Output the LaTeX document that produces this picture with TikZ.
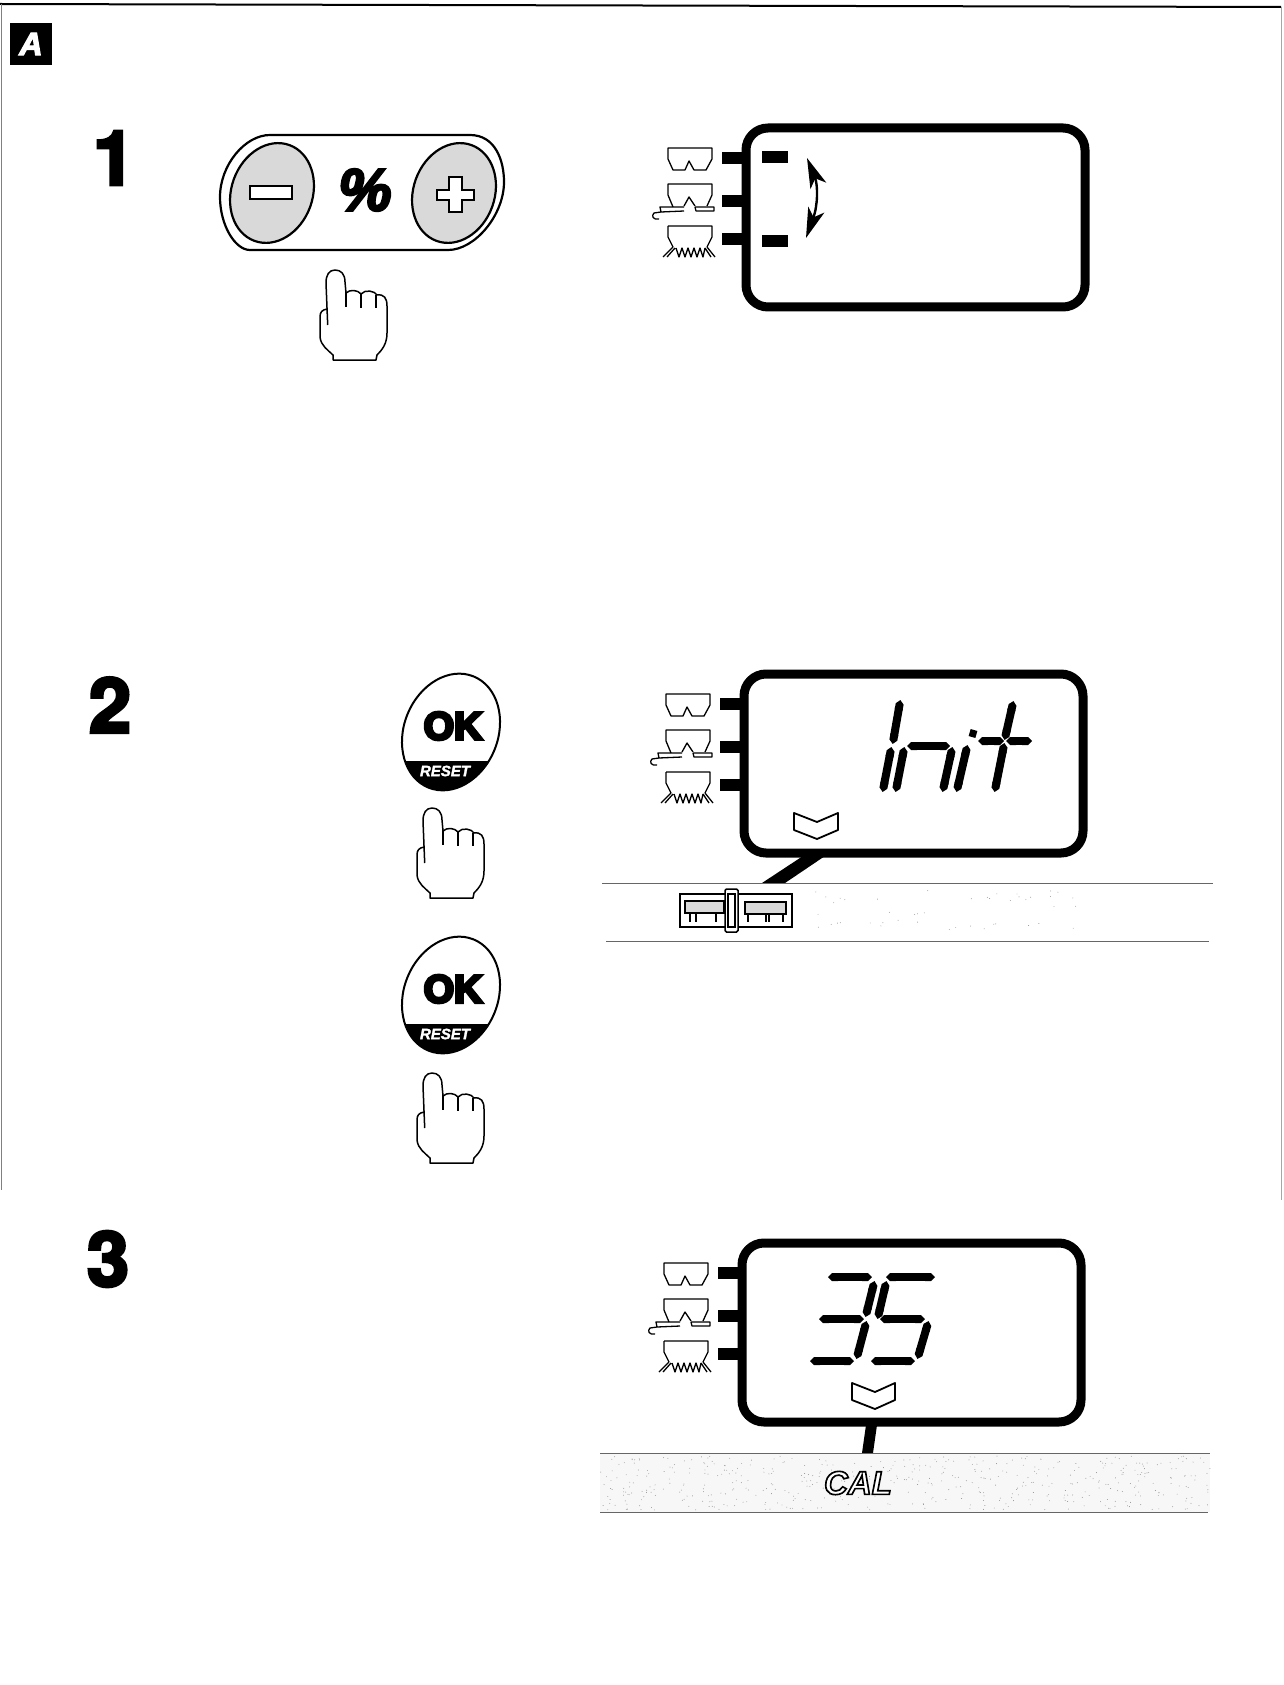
\documentclass[tikz,border=0pt]{standalone}
\usepackage{fontspec}
\setmainfont{Liberation Sans}
\newfontfamily\stepfont[UprightFont=* Bold,FakeBold=4]{TeX Gyre Heros}
\newfontfamily\okfont[UprightFont=* Bold,FakeBold=8]{Liberation Sans}
\newfontfamily\slantfont[UprightFont=* Bold Italic,FakeBold=2]{Liberation Sans}
\newfontfamily\percentfont[UprightFont=* Bold Italic,FakeBold=4]{Liberation Sans}
\newfontfamily\calfont[UprightFont=* Bold Italic,FakeBold=5]{Liberation Sans}
\usetikzlibrary{arrows.meta}
\tikzset{
stepnum/.style={font=\stepfont\fontsize{76}{76}\selectfont,inner sep=0pt},
frameline/.style={line width=1pt,black!50},
stip/.style={fill=black!15},
tick/.style={line width=12pt},
seg/.style={line width=8pt,shorten <=-2pt,shorten >=-2pt,{Triangle Cap[]}-{Triangle Cap[]}},
strip/.style={draw=black!60,line width=.7pt},
icon/.style={line width=1.3pt,line join=round},
hand/.pic={
	\draw[line width=1.5pt,line join=round,fill=white] (27,49) .. controls (22,50) and (20,52) .. (20,57)
	-- (20,77) .. controls (21,86) and (28,90) .. (33,95) -- (33,100) -- (76,100) -- (77,95)
	.. controls (82,90) and (87,84) .. (87,73) -- (87,46) .. controls (87,38) and (84,34) .. (77,35)
	.. controls (75,31) and (65,29) .. (61,34) .. controls (58,30) and (50,29) .. (46,33)
	-- (45,22) .. controls (45,14) and (41,10) .. (35,10) .. controls (29,10) and (26,15) .. (26,23) -- (27.7,65);
	\draw[line width=1.5pt] (46,33) -- (46,47) (61,34) -- (61,48) (76,35) -- (76,48);
},
okbutton/.pic={
	\draw[line width=2pt,rotate=-22] (0,0) ellipse [x radius=47,y radius=60];
	\begin{scope}
	\clip[rotate=-22] (0,0) ellipse [x radius=47,y radius=60];
	\fill (-60,29) rectangle (60,70);
	\end{scope}
	\node[font=\okfont\fontsize{39}{39}\selectfont,inner sep=0pt] (-okname) at (2,-6) {OK};
	\node[text=white,font=\slantfont\fontsize{15}{15}\selectfont,inner sep=0pt] (-resetname) at (-6,39) {RESET};
},
lcd/.pic={
	\draw[line width=9pt,rounded corners=22pt,fill=white] (0,0) rectangle (339,179);
	\draw[tick] (-24,30) -- (0,30) (-24,73) -- (0,73) (-24,111) -- (0,111);
	% hoppers
	\draw[icon] (-78,20) -- (-34,20) -- (-34,31) -- (-40,42) -- (-52,42) -- (-57,33) -- (-61,42) -- (-73,42) -- (-78,31) -- cycle;
	\draw[icon] (-73,79) -- (-78,67) -- (-78,56) -- (-34,56) -- (-34,67) -- (-39,78) (-62,78) -- (-57,69) -- (-51,78);
	\draw[icon] (-51,79) -- (-32,79) -- (-32,83) -- (-50,83) -- (-51,79) (-62,79) -- (-86,79) -- (-85,84) -- (-62,83)
	(-85,84) -- (-92,85) .. controls (-95,88) and (-93,92) .. (-87,91);
	\draw[icon] (-78,98) -- (-34,98) -- (-34,109) -- (-39,119) (-78,98) -- (-78,109) -- (-73,119);
	\draw[icon] (-73,119) -- (-83,129) (-71,120) -- (-79,129)
	(-70,120) -- (-67,129) -- (-64,120) -- (-61,129) -- (-58,120) -- (-55,129) -- (-52,120) -- (-49,129) -- (-46,120) -- (-43,129) -- (-41,120)
	(-39,119) -- (-31,129) (-41,120) -- (-35,129);
},
updown/.style={line width=2.4pt,{Stealth[length=30pt,width=17pt,inset=8pt]}-{Stealth[length=30pt,width=17pt,inset=8pt]}},
chevron/.style={line width=1.8pt,line join=round}
}
\begin{document}
\begin{tikzpicture}[x=1pt,y=-1pt]
\useasboundingbox (0,0) rectangle (1283,1685);
% page frame
\draw[line width=2pt] (0,4) -- (1281,7);
\draw[frameline] (1.5,4) -- (1.5,1190);
\draw[frameline,black!35] (1281,7) -- (1281,1200);
% badge
\node[fill=black,minimum width=42pt,minimum height=42pt,inner sep=0pt,text=white,font=\percentfont\fontsize{32}{32}\selectfont] (badge) at (31,44) {A};
\node[stepnum] (stepone) at (114,158) {1};
\node[stepnum] (steptwo) at (110,705) {2};
\node[stepnum] (stepthree) at (108,1259) {3};

% step 1
\draw[line width=2.2pt] (270,135) -- (470,135) .. controls (495,135) and (504,160) .. (504,182)
.. controls (504,215) and (475,250) .. (448,250) -- (250,250)
.. controls (235,250) and (220,225) .. (220,197) .. controls (220,165) and (245,135) .. (270,135) -- cycle;
\draw[line width=2.2pt,stip,rotate around={-20:(272,193)}] (272,193) ellipse [x radius=40.6,y radius=51];
\draw[line width=2.2pt,stip,rotate around={-20:(454,193)}] (454,193) ellipse [x radius=40.6,y radius=51];
\draw[line width=2pt,fill=white] (250,186) rectangle (292,199);
\draw[line width=2pt,fill=white] (449,177) -- (462,177) -- (462,190) -- (474,190) -- (474,200) -- (462,200) -- (462,212) -- (449,212) -- (449,200) -- (437,200) -- (437,190) -- (449,190) -- cycle;
\node[font=\percentfont\fontsize{60}{60}\selectfont,inner sep=0pt] (percent) at (365,190) {\%};
\pic at (300,260) {hand};
\pic at (746,128) {lcd};
\fill (762,151) rectangle (788,163);
\fill (762,235) rectangle (788,247);
\draw[updown] (807,158) .. controls (818,185) and (818,205) .. (806,238);

% step 2
\pic at (451,732) {okbutton};
\pic at (397,798) {hand};
\pic at (451,995) {okbutton};
\pic at (397,1063) {hand};
\pic at (744,674) {lcd};
\draw[seg] (900,702) -- (893,742);
\draw[seg] (891,749) -- (883,790);
\draw[seg] (904,749) -- (896,790);
\draw[seg] (909,746) -- (948,746);
\draw[seg] (952,749) -- (943,790);
\draw[line width=7pt] (974,730) -- (972,737);
\draw[seg] (967,747) -- (957,790);
\draw[seg] (1013,703) -- (1005,738);
\draw[seg] (1004,745) -- (995,790);
\draw[seg] (980,741) -- (1002,741);
\draw[seg] (1008,741) -- (1030,741);
\draw[chevron] (794,813) -- (817,822) -- (838,813) -- (838,830) -- (817,839) -- (794,830) -- cycle;
\fill (803,856) -- (825,856) -- (785,883) -- (762,883) -- cycle;
\draw[strip] (602,883) -- (1213,883) (606,941) -- (1209,941);
\pgfmathsetseed{12}
\foreach \i in {1,...,45}{
	\fill[black!45] ({805+rnd*280},{890+rnd*40}) circle (.45);
}
% slider
\draw[line width=1.5pt] (680,894) rectangle (792,927);
\draw[line width=1.5pt,stip] (685,901) rectangle (724,913);
\draw[line width=1.5pt,stip] (745,902) rectangle (786,914);
\draw[line width=1.2pt] (690,913) -- (690,922) (696,913) -- (696,922) (716,913) -- (716,922)
(748,914) -- (748,922) (766,914) -- (766,922) (769,914) -- (769,922) (783,914) -- (783,922);
\draw[line width=1.5pt,fill=white,rounded corners=1.5pt] (725,889) rectangle (738,932);
\draw[line width=1.5pt] (728,894) rectangle (735,927);

% step 3
\pic at (742,1243) {lcd};
\draw[seg] (830,1277) -- (870,1277);
\draw[seg] (874,1283) -- (866,1315);
\draw[seg] (821,1319) -- (862,1319);
\draw[seg] (866,1323) -- (857,1357);
\draw[seg] (812,1361) -- (852,1361);
\draw[seg] (888,1277) -- (933,1277);
\draw[seg] (886,1283) -- (878,1317);
\draw[seg] (882,1319) -- (923,1319);
\draw[seg] (928,1323) -- (918,1357);
\draw[seg] (873,1361) -- (913,1361);
\draw[chevron] (852,1383) -- (875,1392) -- (895,1383) -- (895,1400) -- (875,1409) -- (852,1400) -- cycle;
\fill (866,1425) -- (877,1425) -- (873,1453) -- (862,1453) -- cycle;
\fill[black!3] (600,1453) rectangle (1210,1512);
\draw[strip] (600,1453) -- (1210,1453) (600,1512) -- (1208,1512);
\foreach \i in {1,...,500}{
	\fill[black!45] ({600+rnd*610},{1456+rnd*54}) circle (.45);
}
\node[text=white,font=\calfont\fontsize{33}{33}\selectfont,inner sep=0pt] (cal) at (858,1483) {\special{pdf:code 0 G}CAL};
\end{tikzpicture}
\end{document}
